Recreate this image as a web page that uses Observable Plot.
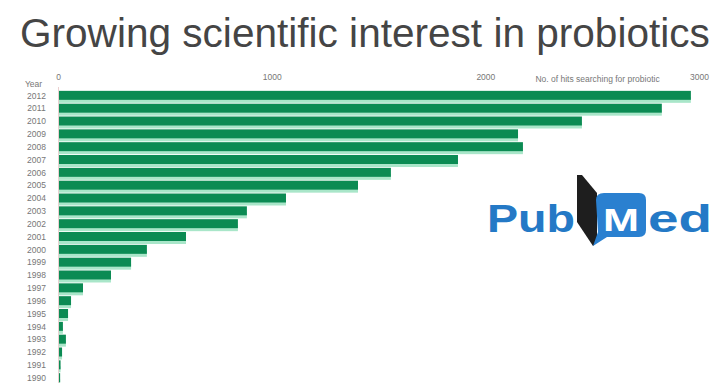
<!DOCTYPE html>
<html><head><meta charset="utf-8">
<script src="https://cdn.jsdelivr.net/npm/d3@7"></script>
<script src="https://cdn.jsdelivr.net/npm/@observablehq/plot@0.6"></script>
<style>
html,body{margin:0;padding:0;background:#fff;width:716px;height:383px;overflow:hidden;}
#wrap{position:relative;width:716px;height:383px;overflow:hidden;}
#title{position:absolute;left:20px;top:10px;font-family:"Liberation Sans Narrow","Liberation Sans",sans-serif;font-size:43px;line-height:43px;color:#454545;white-space:nowrap;}
#chart{position:absolute;left:0;top:62px;}
#logo{position:absolute;left:480px;top:170px;}
</style></head><body>
<div id="wrap">
<div id="title"><span id="tt">Growing scientific interest in probiotics</span></div>
<div id="chart"></div>
<svg id="logo" width="236" height="85" viewBox="0 0 236 85">
  <text x="7" y="62" font-family="Liberation Sans" font-weight="bold" font-size="39" fill="#2479c6" textLength="88" lengthAdjust="spacingAndGlyphs">Pub</text>
  <polygon points="97,5 102,5 117,23 117,72 113,76 97,52" fill="#1e1e1e"/>
  <path d="M116,30 Q116,23 124,23 L159,23 Q166,23 166,30 L166,60 Q166,67 159,67 L127,67 L113,76 L118,62 Z" fill="#2a80d0"/>
  <text x="141" y="61" text-anchor="middle" font-family="Liberation Sans" font-weight="bold" font-size="32" fill="#fff" textLength="36" lengthAdjust="spacingAndGlyphs">M</text>
  <text x="168" y="62" font-family="Liberation Sans" font-weight="bold" font-size="39" fill="#2479c6" textLength="64" lengthAdjust="spacingAndGlyphs">ed</text>
</svg>
</div>
<script>
const years = ["2012","2011","2010","2009","2008","2007","2006","2005","2004","2003","2002","2001","2000","1999","1998","1997","1996","1995","1994","1993","1992","1991","1990"];
const hits = [2962,2826,2452,2153,2176,1872,1558,1404,1067,884,842,599,416,342,248,117,61,47,23,37,19,12,10];
const xTicks = [0,1000,2000,3000];
const xLabel = "No. of hits searching for probiotic";
const yLabel = "Year";

const data = years.map((year, i) => ({year, hits: hits[i]}));

const chart = Plot.plot({
  width: 716, height: 324,
  marginTop: 25, marginBottom: 0, marginLeft: 58, marginRight: 17,
  x: {domain: [0, 3000], axis: null},
  y: {domain: years, padding: 0.3, round: false, axis: null},
  style: {fontFamily: "Liberation Sans", fontSize: "8.5px", color: "#777", background: "#fff"},
  marks: [
    Plot.barX(data, {x: "hits", y: "year", fill: "#a9e6c9", insetTop: 6, insetBottom: -3}),
    Plot.barX(data, {x: "hits", y: "year", fill: "#0b8b53"}),
    Plot.ruleX([0], {stroke: "#ead0d0"}),
    Plot.axisX({anchor: "top", ticks: xTicks, tickSize: 0, tickPadding: 8, label: null, tickFormat: d => String(d), fill: "#777"}),
    Plot.axisY({tickSize: 0, tickPadding: 22, textAnchor: "middle", label: null, fill: "#777"}),
    Plot.text([yLabel], {frameAnchor: "top-left", dx: -25, dy: -7, textAnchor: "middle", fill: "#777"}),
    Plot.text([xLabel], {frameAnchor: "top-left", dx: 597 - 58, dy: -12, textAnchor: "middle", fill: "#777"})
  ]
});
document.getElementById("chart").appendChild(chart);

// fit title width to reference span (~690px) via letter-spacing
const tt = document.getElementById("tt");
const title = document.getElementById("title");
let w = tt.getBoundingClientRect().width;
if (w > 692) {
  const fs = 43 * 690 / w;
  title.style.fontSize = fs + "px";
  title.style.top = (10 + (43 - fs) * 0.85) + "px";
} else if (w < 686) {
  title.style.letterSpacing = ((690 - w) / 41) + "px";
}
</script>
</body></html>
